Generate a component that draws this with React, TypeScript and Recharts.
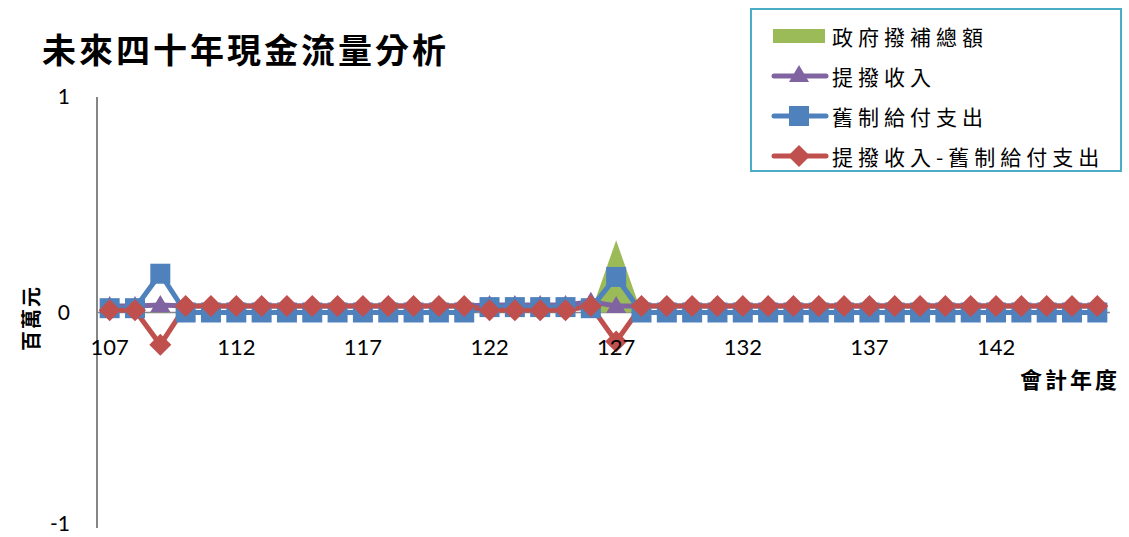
import { ComposedChart, Area, Line, XAxis, YAxis, CartesianGrid } from 'recharts';

const years = [
  '107', '108', '109', '110', '111', '112', '113', '114', '115', '116',
  '117', '118', '119', '120', '121', '122', '123', '124', '125', '126',
  '127', '128', '129', '130', '131', '132', '133', '134', '135', '136',
  '137', '138', '139', '140', '141', '142', '143', '144', '145', '146',
];

// 政府撥補總額
const subsidy = [
  0, 0, 0, 0, 0, 0, 0, 0, 0, 0,
  0, 0, 0, 0, 0, 0, 0, 0, 0, 0,
  0.335, 0, 0, 0, 0, 0, 0, 0, 0, 0,
  0, 0, 0, 0, 0, 0, 0, 0, 0, 0,
];

// 提撥收入
const contribution = [
  0.03, 0.03, 0.035, 0.03, 0.03, 0.03, 0.03, 0.03, 0.03, 0.03,
  0.03, 0.03, 0.03, 0.03, 0.03, 0.035, 0.035, 0.035, 0.035, 0.05,
  0.03, 0.03, 0.03, 0.03, 0.03, 0.03, 0.03, 0.03, 0.03, 0.03,
  0.03, 0.03, 0.03, 0.03, 0.03, 0.03, 0.03, 0.03, 0.03, 0.03,
];

// 舊制給付支出
const payout = [
  0.02, 0.02, 0.18, 0, 0, 0, 0, 0, 0, 0,
  0, 0, 0, 0, 0, 0.025, 0.025, 0.025, 0.025, 0.02,
  0.165, 0, 0, 0, 0, 0, 0, 0, 0, 0,
  0, 0, 0, 0, 0, 0, 0, 0, 0, 0,
];

// 提撥收入-舊制給付支出
const net = [
  0.01, 0.01, -0.15, 0.03, 0.03, 0.03, 0.03, 0.03, 0.03, 0.03,
  0.03, 0.03, 0.03, 0.03, 0.03, 0.01, 0.01, 0.01, 0.01, 0.03,
  -0.135, 0.03, 0.03, 0.03, 0.03, 0.03, 0.03, 0.03, 0.03, 0.03,
  0.03, 0.03, 0.03, 0.03, 0.03, 0.03, 0.03, 0.03, 0.03, 0.03,
];

const yTicks = [-1, 0, 1];

const GREEN = '#9BBB59';
const PURPLE = '#8064A2';
const BLUE = '#4F81BD';
const RED = '#C0504D';
const AXIS = '#868686';
const CJK = '"Noto Sans CJK TC", "Noto Sans CJK JP", sans-serif';
const NUM = 'Lato, "Liberation Sans", sans-serif';

const data = years.map((y, i) => ({
  year: y,
  subsidy: subsidy[i],
  contribution: contribution[i],
  payout: payout[i],
  net: net[i],
}));

const triangle = (cx: number, cy: number, color: string, key?: any) => (
  <path key={key} d={`M${cx},${cy - 10} L${cx + 10},${cy + 7} L${cx - 10},${cy + 7} Z`} fill={color} />
);
const square = (cx: number, cy: number, color: string, key?: any) => (
  <rect key={key} x={cx - 10} y={cy - 10} width={20} height={20} fill={color} />
);
const diamond = (cx: number, cy: number, color: string, key?: any) => (
  <path key={key} d={`M${cx},${cy - 11} L${cx + 11},${cy} L${cx},${cy + 11} L${cx - 11},${cy} Z`} fill={color} />
);

function XTick(props: any) {
  const { x, payload } = props;
  return (
    <text x={x} y={355} textAnchor="middle" fontFamily={NUM} fontSize={22} fill="#000">
      {payload.value}
    </text>
  );
}

function YTick(props: any) {
  const { x, y, payload } = props;
  // keep the bottom label inside the picture
  const shift = payload.value === -1 ? -4 : 0;
  return (
    <text x={x} y={y + shift} dy="0.35em" textAnchor="end" fontFamily={NUM} fontSize={21} fill="#000">
      {payload.value}
    </text>
  );
}

const legendItems = [
  { name: '政府撥補總額', kind: 'area', color: GREEN },
  { name: '提撥收入', kind: 'triangle', color: PURPLE },
  { name: '舊制給付支出', kind: 'square', color: BLUE },
  { name: '提撥收入-舊制給付支出', kind: 'diamond', color: RED },
];

function LegendBox() {
  return (
    <div
      style={{
        position: 'absolute',
        left: 750,
        top: 8,
        width: 372,
        height: 164,
        border: '2px solid #4BACC6',
        background: '#fff',
        boxSizing: 'border-box',
        paddingTop: 6,
      }}
    >
      {legendItems.map((it) => (
        <div key={it.name} style={{ display: 'flex', alignItems: 'center', height: 40 }}>
          <svg width={80} height={30} style={{ flexShrink: 0 }}>
            {it.kind === 'area' ? (
              <rect x={21} y={8} width={52} height={14} fill={it.color} />
            ) : (
              <>
                <line x1={22} y1={15} x2={74} y2={15} stroke={it.color} strokeWidth={5} strokeLinecap="round" />
                {it.kind === 'triangle' && triangle(47, 14, it.color)}
                {it.kind === 'square' && square(47, 15, it.color)}
                {it.kind === 'diamond' && diamond(47, 15, it.color)}
              </>
            )}
          </svg>
          <span style={{ fontFamily: CJK, fontSize: 21, letterSpacing: 5, color: '#000', whiteSpace: 'nowrap' }}>
            {it.name}
          </span>
        </div>
      ))}
    </div>
  );
}

export default function App() {
  return (
    <div style={{ position: 'absolute', left: 0, top: 0, width: 1129, height: 537, background: '#fff' }}>
      <ComposedChart width={1129} height={537} data={data} margin={{ top: 97, right: 19, left: 0, bottom: 0 }}>
        <CartesianGrid horizontal vertical={false} horizontalValues={[0]} stroke={AXIS} strokeWidth={1.5} />
        <XAxis
          dataKey="year"
          scale="band"
          height={9}
          axisLine={false}
          tickLine={false}
          interval={4}
          tick={<XTick />}
        />
        <YAxis
          width={97}
          domain={[-1, 1]}
          ticks={yTicks}
          interval={0}
          axisLine={{ stroke: AXIS, strokeWidth: 2 }}
          tickLine={false}
          tickSize={0}
          tickMargin={27}
          tick={<YTick />}
        />
        <Area
          type="linear"
          dataKey="subsidy"
          name="政府撥補總額"
          stroke="none"
          fill={GREEN}
          fillOpacity={1}
          isAnimationActive={false}
        />
        <Line
          type="linear"
          dataKey="contribution"
          name="提撥收入"
          stroke={PURPLE}
          strokeWidth={5}
          dot={(p: any) => triangle(p.cx, p.cy, PURPLE, p.index)}
          activeDot={false}
          isAnimationActive={false}
        />
        <Line
          type="linear"
          dataKey="payout"
          name="舊制給付支出"
          stroke={BLUE}
          strokeWidth={5}
          dot={(p: any) => square(p.cx, p.cy, BLUE, p.index)}
          activeDot={false}
          isAnimationActive={false}
        />
        <Line
          type="linear"
          dataKey="net"
          name="提撥收入-舊制給付支出"
          stroke={RED}
          strokeWidth={5}
          dot={(p: any) => diamond(p.cx, p.cy, RED, p.index)}
          activeDot={false}
          isAnimationActive={false}
        />
      </ComposedChart>
      <div
        style={{
          position: 'absolute',
          left: 42,
          top: 24,
          fontFamily: CJK,
          fontSize: 34,
          fontWeight: 700,
          letterSpacing: 3,
          color: '#000',
          whiteSpace: 'nowrap',
        }}
      >
        未來四十年現金流量分析
      </div>
      <div
        style={{
          position: 'absolute',
          left: 30,
          top: 318,
          transform: 'translate(-50%, -50%) rotate(-90deg)',
          fontFamily: CJK,
          fontSize: 20,
          fontWeight: 700,
          letterSpacing: 2,
          whiteSpace: 'nowrap',
        }}
      >
        百萬元
      </div>
      <div
        style={{
          position: 'absolute',
          left: 1020,
          top: 362,
          fontFamily: CJK,
          fontSize: 22,
          fontWeight: 700,
          letterSpacing: 3,
          whiteSpace: 'nowrap',
        }}
      >
        會計年度
      </div>
      <LegendBox />
    </div>
  );
}
